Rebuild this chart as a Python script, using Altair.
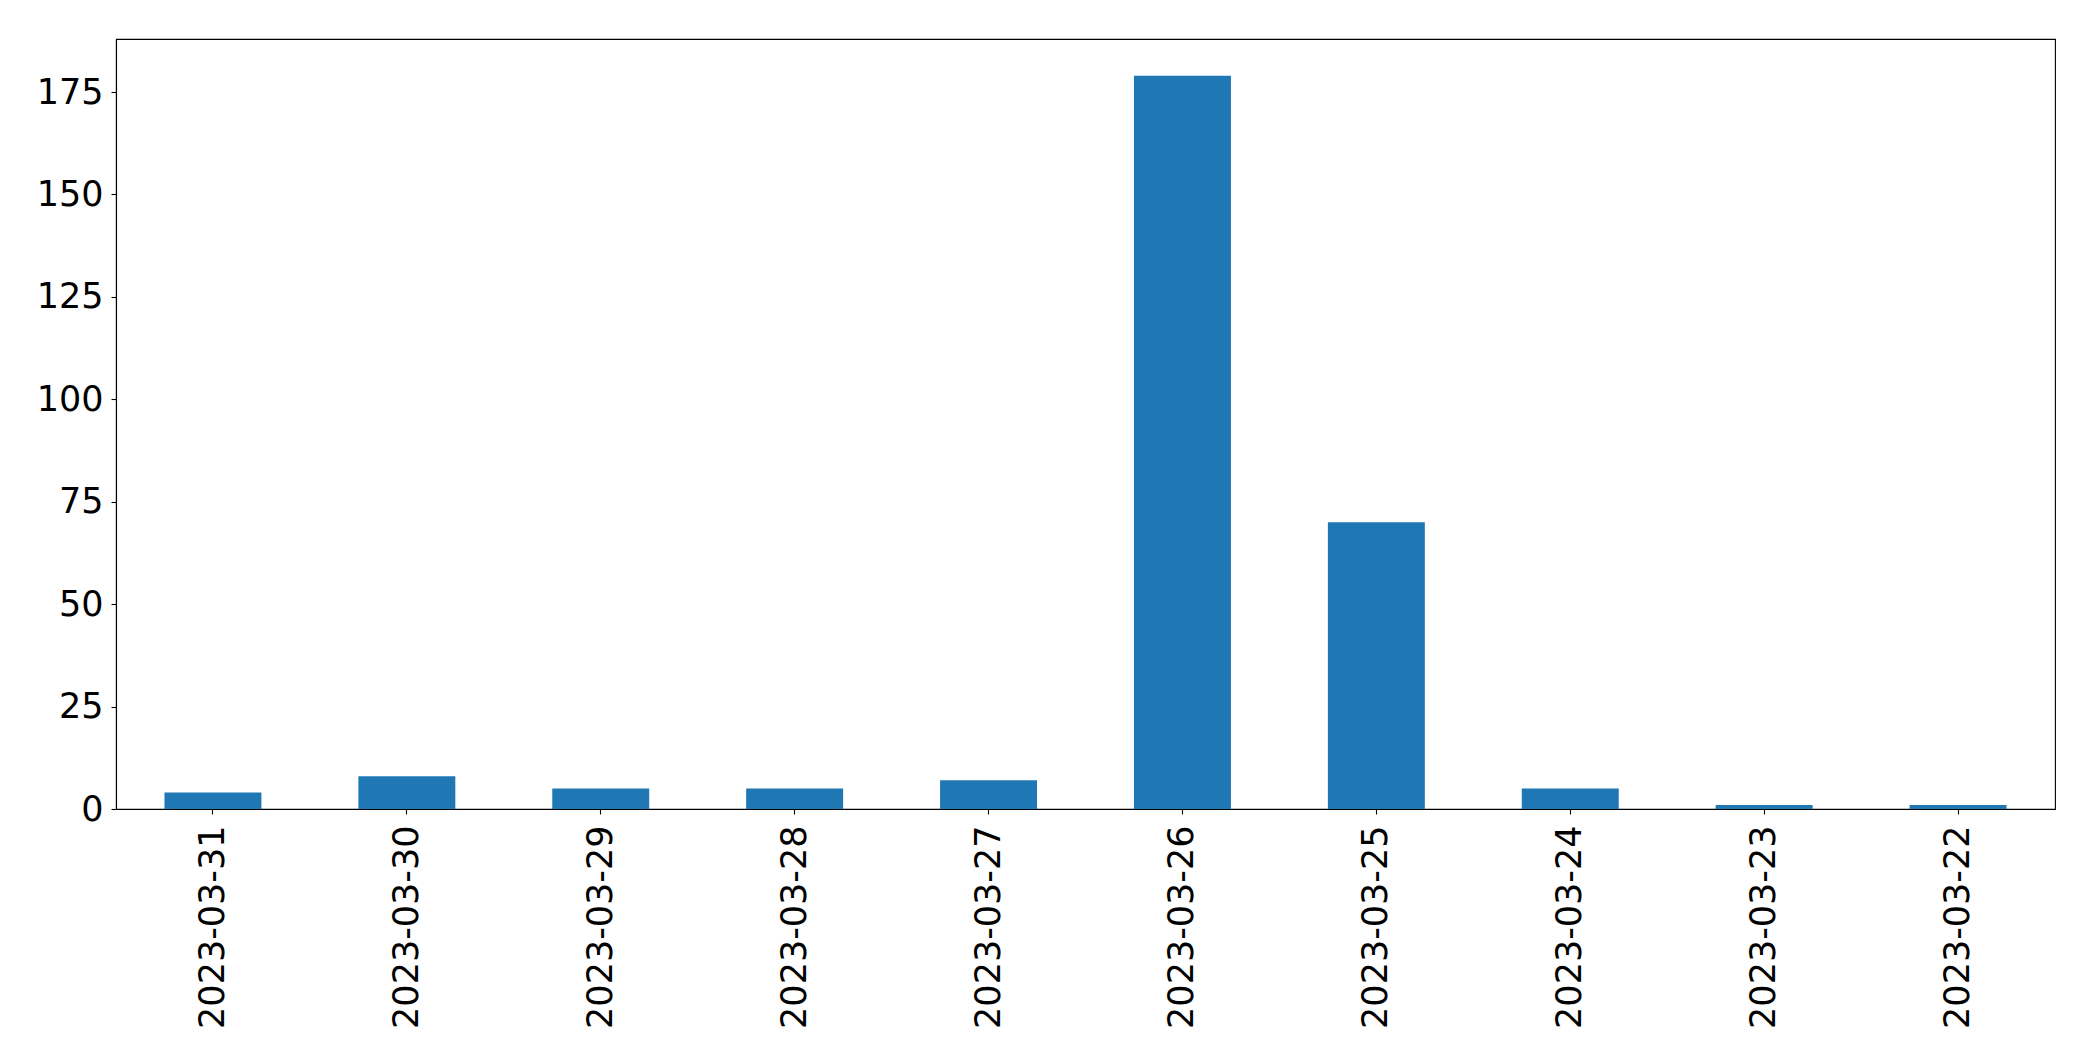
import altair as alt
import pandas as pd

dates = ["2023-03-31", "2023-03-30", "2023-03-29", "2023-03-28", "2023-03-27",
         "2023-03-26", "2023-03-25", "2023-03-24", "2023-03-23", "2023-03-22"]
counts = [4, 8, 5, 5, 7, 179, 70, 5, 1, 1]
y_ticks = [0, 25, 50, 75, 100, 125, 150, 175]

df = pd.DataFrame({"date": dates, "count": counts})

chart = alt.Chart(df).mark_bar(color="#1f77b4").encode(
    x=alt.X("date:N", sort=dates, title=None,
            scale=alt.Scale(paddingInner=0.5, paddingOuter=0.25),
            axis=alt.Axis(labelAngle=-90, labelFontSize=35, labelFont="DejaVu Sans",
                          labelColor="black", tickColor="black", tickSize=5,
                          tickWidth=1.1, domainColor="black", domainWidth=1.1,
                          labelPadding=11, labelLimit=0, grid=False)),
    y=alt.Y("count:Q", title=None,
            scale=alt.Scale(domain=[0, 187.95], nice=False, zero=True),
            axis=alt.Axis(values=y_ticks, labelFontSize=35, labelFont="DejaVu Sans",
                          labelColor="black", tickColor="black", tickSize=5,
                          tickWidth=1.1, domainColor="black", domainWidth=1.1,
                          labelPadding=8, grid=False)),
).properties(
    width=1939, height=770,
    autosize=alt.AutoSizeParams(type="none"),
    padding={"left": 108, "top": 31, "right": 30, "bottom": 240},
).configure_view(stroke="black", strokeWidth=1.1)

chart.save("out.html", embed_options={"renderer": "svg", "actions": False})
